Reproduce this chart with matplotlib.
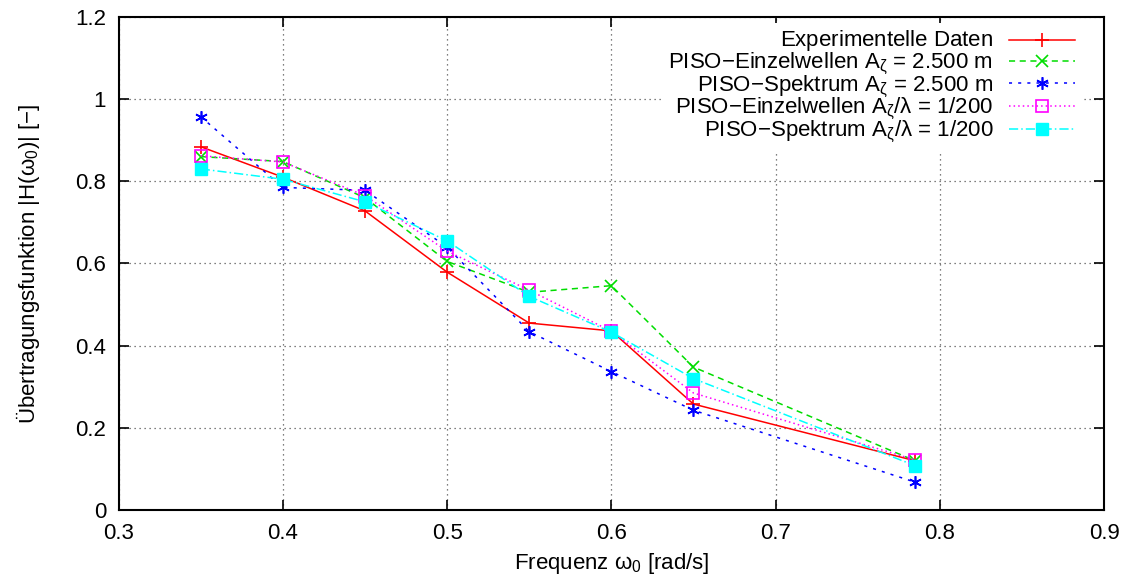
import numpy as np
import matplotlib
matplotlib.use('Agg')
import matplotlib.pyplot as plt

plt.rcParams['font.family'] = ['Liberation Sans', 'DejaVu Sans']
plt.rcParams['mathtext.fontset'] = 'custom'
plt.rcParams['mathtext.rm'] = 'Liberation Sans'
plt.rcParams['mathtext.it'] = 'Liberation Sans'
plt.rcParams['font.size'] = 16

# frequencies [rad/s]
omega = [0.35, 0.40, 0.45, 0.50, 0.55, 0.60, 0.65, 0.785]

# transfer function magnitudes
exp_data = [0.884, 0.810, 0.728, 0.579, 0.455, 0.436, 0.258, 0.120]
einzel_25 = [0.860, 0.848, 0.760, 0.605, 0.530, 0.546, 0.348, 0.120]
spektrum_25 = [0.957, 0.785, 0.778, 0.640, 0.434, 0.337, 0.243, 0.068]
einzel_200 = [0.862, 0.847, 0.765, 0.630, 0.535, 0.435, 0.285, 0.122]
spektrum_200 = [0.830, 0.805, 0.750, 0.655, 0.520, 0.433, 0.320, 0.108]

labels = [r'Experimentelle Daten$_{\,}$',
          r'PISO$-$Einzelwellen A$_{ζ}$ = 2.500 m',
          r'PISO$-$Spektrum A$_{ζ}$ = 2.500 m',
          r'PISO$-$Einzelwellen A$_{ζ}$/λ = 1/200',
          r'PISO$-$Spektrum A$_{ζ}$/λ = 1/200']

fig = plt.figure(figsize=(11.3, 5.81), dpi=100)
ax = fig.add_axes([0.105, 0.122, 0.872, 0.849])

ax.plot(omega, exp_data, color='#ff0000', ls='-', lw=1.1, marker='+', ms=10, mew=1.2,
        label=labels[0])
ax.plot(omega, einzel_25, color='#00dd00', ls=(0, (4, 3)), lw=1.1, marker='x', ms=8, mew=1.2,
        label=labels[1])
ax.plot(omega, spektrum_25, color='#0000ff', ls=(0, (2, 4)), lw=1.1, marker=(6, 2, 0), ms=9,
        mew=1.2, label=labels[2])
ax.plot(omega, einzel_200, color='#ff00ff', ls=(0, (1, 2)), lw=1.1, marker='s', ms=8.5, mew=1.2,
        mfc='none', label=labels[3])
ax.plot(omega, spektrum_200, color='#00ffff', ls=(0, (6, 2, 1, 2)), lw=1.1, marker='s', ms=8,
        label=labels[4])

ax.set_xlim(0.3, 0.9)
ax.set_ylim(0, 1.2)
ax.set_xticks(np.arange(0.3, 0.91, 0.1))
ax.set_yticks(np.arange(0, 1.21, 0.2))
ax.set_xticklabels(['0.3', '0.4', '0.5', '0.6', '0.7', '0.8', '0.9'])
ax.set_yticklabels(['0', '0.2', '0.4', '0.6', '0.8', '1', '1.2'])
ax.tick_params(direction='in', length=7, width=1.2, top=True, right=True, pad=9)
for s in ax.spines.values():
    s.set_linewidth(1.5)
ax.grid(True, color='#555555', ls=(0, (1, 3)), lw=0.9)

ax.set_xlabel(r'Frequenz ω$_0$ [rad/s]', labelpad=5)
ax.set_ylabel(r'Übertragungsfunktion |H(ω$_0$)| [$-$]', labelpad=24)

leg = ax.legend(loc='upper right', bbox_to_anchor=(1 - 22 / 985, 1 - 6 / 493),
                markerfirst=False, frameon=True, fancybox=False,
                edgecolor='none', facecolor='white', framealpha=1,
                handlelength=3.0, handletextpad=0.7, labelspacing=-0.16,
                borderaxespad=0, borderpad=0.3)
# nudge first entry up a little, gnuplot spaces rows evenly
leg.get_texts()[0].set_position((0, 2))

fig.savefig('out.png', dpi=100)
